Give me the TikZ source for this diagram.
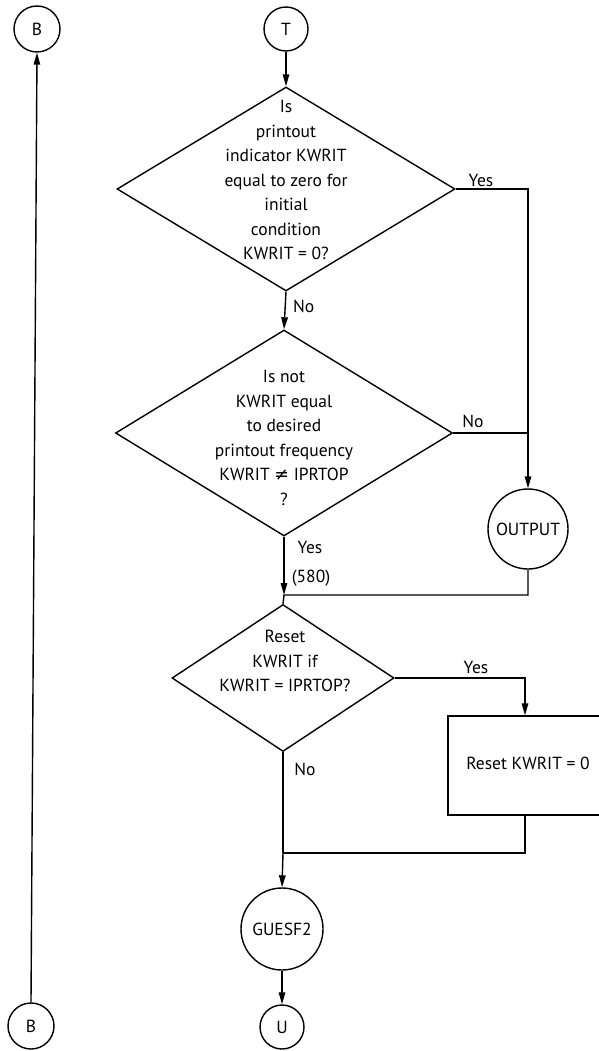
\documentclass[tikz,border=0pt]{standalone}
\usepackage{fontspec}
\setmainfont{PT Sans}
\newfontfamily\symf{DejaVu Sans}
\usetikzlibrary{shapes.geometric,arrows.meta}
\begin{document}
\begin{tikzpicture}[x=1pt,y=-1pt,
  every node/.style={font=\fontsize{17.5}{24.5}\selectfont},
  ln/.style={line width=1.4pt},
  arr/.style={ln,-{Triangle[length=12pt,width=6.5pt]}},
  dec/.style={diamond,draw,line width=1.4pt,inner sep=0pt},
  conn/.style={circle,draw,line width=1.4pt,inner sep=0pt},
  txt/.style={align=center,inner sep=0pt},
  lbl/.style={inner sep=0pt}]
\useasboundingbox (0,0) rectangle (599,1051);
% connectors (circles)
\node[conn,minimum size=46pt] (tB) at (37,29) {B};
\node[conn,minimum size=46pt] (bB) at (31,1026) {B};
\node[conn,minimum size=44pt] (T) at (286,29) {T};
\node[conn,minimum size=80pt] (out) at (528,529) {OUTPUT};
\node[conn,minimum size=82pt] (gu) at (282,929) {GUESF2};
\node[conn,minimum size=44pt] (U) at (282,1027) {U};
% decisions
\node[dec,minimum width=338pt,minimum height=204pt] (d1) at (286,189) {};
\node[txt] at (286,180) {Is\\printout\\indicator KWRIT\\equal to zero for\\initial\\condition\\KWRIT = 0?};
\node[dec,minimum width=337pt,minimum height=206pt] (d2) at (284,433) {};
\node[txt] at (284,438) {Is not\\KWRIT equal\\to desired\\printout frequency\\KWRIT {\symf ≠} IPRTOP\\?};
\node[dec,minimum width=222pt,minimum height=147pt] (d3) at (283,678) {};
\node[txt] at (285,661) {Reset\\KWRIT if\\KWRIT = IPRTOP?};
% process box (runs off the right edge)
\node[draw,line width=1.4pt,minimum width=172pt,minimum height=99pt,inner sep=0pt] (box) at (534,765.5) {};
\node[lbl] at (528,763) {Reset KWRIT = 0};
% junctions
\coordinate (colR) at (528,0);
\coordinate (j1) at (284,595);
\coordinate (colB) at (525,0);
\coordinate (j2) at (283,853);
% edges
\draw[arr] (bB.north) -- (tB.south);
\draw[arr] (T.south) -- (d1.north);
\draw[arr] (d1.east) -- (d1.east -| colR) -- (out.north);
\draw[ln] (d2.east) -- (d2.east -| colR);
\draw[arr] (d1.south) -- (d2.north);
\draw[arr] (d2.south) -- (j1);
\draw[ln] (out.south) -- (out.south |- j1) -- (j1) -- (d3.north);
\draw[arr] (d3.east) -- (d3.east -| colB) -- (box.north -| colB);
\draw[ln] (box.south -| colB) -- (colB |- j2) -- (j2);
\draw[ln] (d3.south) -- (j2);
\draw[arr] (j2) -- (gu.north);
\draw[arr] (gu.south) -- (U.north);
% labels
\node[lbl] at (481,180) {Yes};
\node[lbl,anchor=west] at (293,306) {No};
\node[lbl] at (473,421) {No};
\node[lbl] at (310,547) {Yes};
\node[lbl] at (311,578) {(580)};
\node[lbl] at (476,667) {Yes};
\node[lbl] at (305,769) {No};
\end{tikzpicture}
\end{document}
